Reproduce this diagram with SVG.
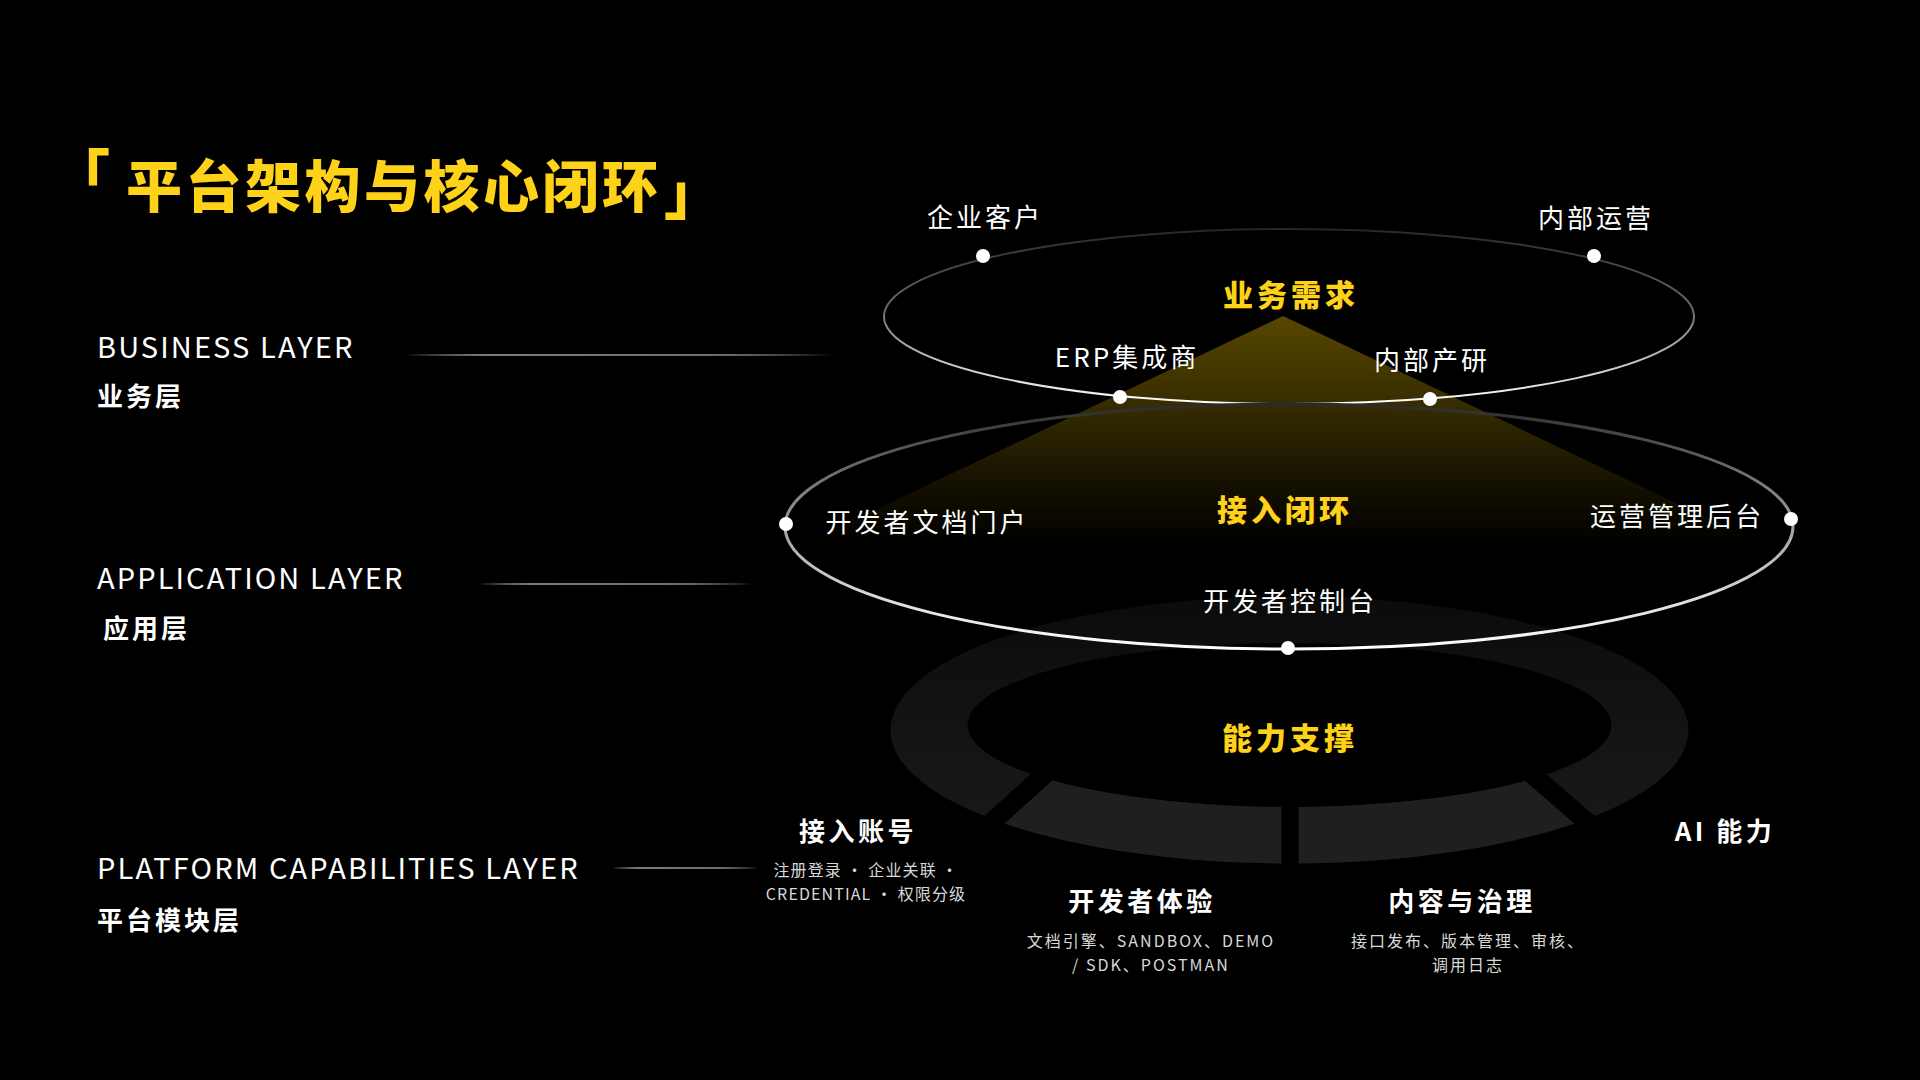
<svg xmlns="http://www.w3.org/2000/svg" width="1920" height="1080" viewBox="0 0 1920 1080">
<defs>
<style>
text{font-family:"Noto Sans CJK SC","Noto Sans",sans-serif;}
.ttl{fill:#FFD21A;font-size:56px;font-weight:900;letter-spacing:3.5px;}
.brk{fill:#FFD21A;font-size:58px;font-weight:900;}
.en{fill:#ffffff;font-size:29px;font-weight:400;letter-spacing:2.1px;}
.cn{fill:#ffffff;font-size:26px;font-weight:700;letter-spacing:3px;}
.lbl{fill:#ffffff;font-size:26px;font-weight:400;letter-spacing:3px;text-anchor:middle;}
.hub{fill:#FFD21A;font-size:30px;font-weight:900;letter-spacing:4px;text-anchor:middle;}
.cap{fill:#ffffff;font-size:26px;font-weight:700;letter-spacing:3.5px;text-anchor:middle;}
.sm{fill:#d8d8d8;font-size:16px;font-weight:400;letter-spacing:2px;text-anchor:middle;}
.sm2{fill:#d8d8d8;font-size:16px;font-weight:400;letter-spacing:1.1px;text-anchor:middle;}
.dot{fill:#ffffff;}
</style>
<linearGradient id="gLine" x1="0" y1="0" x2="1" y2="0">
<stop offset="0" stop-color="#ffffff" stop-opacity="0"/>
<stop offset="0.2" stop-color="#9a9a9a" stop-opacity="0.8"/>
<stop offset="0.7" stop-color="#8a8a8a" stop-opacity="0.8"/>
<stop offset="1" stop-color="#ffffff" stop-opacity="0"/>
</linearGradient>
<linearGradient id="gTop" gradientUnits="userSpaceOnUse" x1="0" y1="229" x2="0" y2="404">
<stop offset="0" stop-color="#262626"/>
<stop offset="0.45" stop-color="#6a6a6a"/>
<stop offset="0.8" stop-color="#cfcfcf"/>
<stop offset="1" stop-color="#ffffff"/>
</linearGradient>
<linearGradient id="gMid" gradientUnits="userSpaceOnUse" x1="0" y1="404" x2="0" y2="649">
<stop offset="0" stop-color="#2a2a2a"/>
<stop offset="0.4" stop-color="#8a8a8a"/>
<stop offset="0.8" stop-color="#dcdcdc"/>
<stop offset="1" stop-color="#ffffff"/>
</linearGradient>
<linearGradient id="gCone" gradientUnits="userSpaceOnUse" x1="0" y1="316" x2="0" y2="545">
<stop offset="0" stop-color="#574700"/>
<stop offset="0.35" stop-color="#3a2f00"/>
<stop offset="0.75" stop-color="#141000"/>
<stop offset="1" stop-color="#000000"/>
</linearGradient>
<linearGradient id="gRing" gradientUnits="userSpaceOnUse" x1="0" y1="596" x2="0" y2="864">
<stop offset="0" stop-color="#0b0b0b"/>
<stop offset="0.6" stop-color="#151515"/>
<stop offset="1" stop-color="#1a1a1a"/>
</linearGradient>
<clipPath id="cBottom">
<polygon points="1060,761 975,837 975,900 1605,900 1605,837 1515,760"/>
</clipPath>
</defs>
<rect width="1920" height="1080" fill="#000000"/>

<g id="title">
<text class="brk" x="52" y="198">「</text>
<text class="ttl" x="126" y="207">平台架构与核心闭环</text>
<text class="brk" x="664" y="214">」</text>
</g>

<g id="layer-business">
<text class="en" x="97" y="358">BUSINESS LAYER</text>
<text class="cn" x="97" y="406">业务层</text>
</g>
<g id="layer-application">
<text class="en" x="97" y="589">APPLICATION LAYER</text>
<text class="cn" x="103" y="638">应用层</text>
</g>
<g id="layer-platform">
<text class="en" x="97" y="879">PLATFORM CAPABILITIES LAYER</text>
<text class="cn" x="97" y="930">平台模块层</text>
</g>

<g id="connectors">
<rect x="404" y="354" width="429" height="2" fill="url(#gLine)"/>
<rect x="478" y="583" width="275" height="2" fill="url(#gLine)"/>
<rect x="612" y="867" width="147" height="2" fill="url(#gLine)"/>
</g>

<g id="capability-ring">
<path d="M890.5,730 a399,133.5 0 1,0 798,0 a399,133.5 0 1,0 -798,0 Z M967.5,725 a322,82 0 1,1 644,0 a322,82 0 1,1 -644,0 Z" fill="url(#gRing)" fill-rule="evenodd"/>
<path d="M890.5,730 a399,133.5 0 1,0 798,0 a399,133.5 0 1,0 -798,0 Z M967.5,725 a322,82 0 1,1 644,0 a322,82 0 1,1 -644,0 Z" fill="#1f1f1f" fill-rule="evenodd" clip-path="url(#cBottom)"/>
<line x1="1062" y1="759" x2="972" y2="840" stroke="#000" stroke-width="19"/>
<line x1="1513" y1="758" x2="1608" y2="840" stroke="#000" stroke-width="19"/>
<line x1="1290" y1="795" x2="1290" y2="880" stroke="#000" stroke-width="17"/>
<text class="hub" x="1290" y="749">能力支撑</text>
</g>

<g id="cone">
<polygon points="1283,316 770,560 1796,560" fill="url(#gCone)"/>
</g>

<g id="ring-business">
<ellipse cx="1289" cy="316.5" rx="405" ry="87.5" fill="none" stroke="url(#gTop)" stroke-width="2"/>
<text class="hub" x="1291" y="306">业务需求</text>
</g>

<g id="ring-application">
<ellipse cx="1289" cy="526.5" rx="504" ry="122.5" fill="none" stroke="url(#gMid)" stroke-width="3"/>
<text class="hub" x="1285" y="521">接入闭环</text>
</g>

<g id="node-enterprise">
<circle class="dot" cx="983" cy="256" r="7"/>
<text class="lbl" x="985" y="227">企业客户</text>
</g>
<g id="node-internal-ops">
<circle class="dot" cx="1594" cy="256" r="7"/>
<text class="lbl" x="1596" y="228">内部运营</text>
</g>
<g id="node-erp">
<circle class="dot" cx="1120" cy="397" r="7"/>
<text class="lbl" x="1127" y="367">ERP集成商</text>
</g>
<g id="node-internal-rd">
<circle class="dot" cx="1430" cy="399" r="7"/>
<text class="lbl" x="1432" y="370">内部产研</text>
</g>
<g id="node-dev-portal">
<circle class="dot" cx="786" cy="524" r="7"/>
<text class="lbl" x="927" y="532">开发者文档门户</text>
</g>
<g id="node-ops-admin">
<circle class="dot" cx="1791" cy="519" r="7"/>
<text class="lbl" x="1677" y="526">运营管理后台</text>
</g>
<g id="node-dev-console">
<circle class="dot" cx="1288" cy="648" r="7"/>
<text class="lbl" x="1290" y="611">开发者控制台</text>
</g>

<g id="cap-account">
<text class="cap" x="858" y="841">接入账号</text>
<text class="sm2" x="866" y="876">注册登录 · 企业关联 ·</text>
<text class="sm2" x="866" y="900">CREDENTIAL · 权限分级</text>
</g>
<g id="cap-devx">
<text class="cap" x="1142" y="911">开发者体验</text>
<text class="sm" x="1151" y="947">文档引擎、SANDBOX、DEMO</text>
<text class="sm" x="1151" y="971">/ SDK、POSTMAN</text>
</g>
<g id="cap-governance">
<text class="cap" x="1462" y="911">内容与治理</text>
<text class="sm" x="1468" y="947">接口发布、版本管理、审核、</text>
<text class="sm" x="1468" y="971">调用日志</text>
</g>
<g id="cap-ai">
<text class="cap" x="1725" y="841">AI 能力</text>
</g>
</svg>
